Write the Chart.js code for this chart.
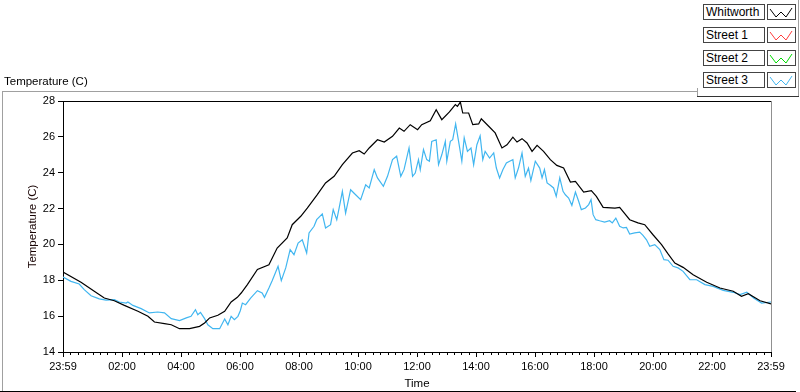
<!DOCTYPE html>
<html>
<head>
<meta charset="utf-8">
<script src="https://cdn.jsdelivr.net/npm/chart.js@4.4.0/dist/chart.umd.min.js"></script>
<style>
  html, body { margin: 0; padding: 0; background: #fff; }
  body { width: 800px; height: 392px; position: relative; overflow: hidden; font-family: "Liberation Sans", Arial, sans-serif; }
  #chart { position: absolute; left: 0; top: 0; }
  .line { position: absolute; }
  .plot-title { position: absolute; left: 4px; top: 75px; font-size: 11.5px; color: #000; }
  .legend-row { position: absolute; left: 703px; height: 15px; }
  .legend-name { position: absolute; left: 0; top: 0; width: 58px; height: 14px; border: 1px solid #444; font-size: 12px; line-height: 14px; padding-left: 2px; box-sizing: content-box; background: #fff; }
  .legend-swatch { position: absolute; left: 64px; top: 0; width: 27px; height: 14px; border: 1px solid #444; background: #fff; }
</style>
</head>
<body>
<canvas id="chart" width="800" height="392"></canvas>
<div class="line" style="left:2px;top:91px;width:695px;height:1px;background:#a0a0a0"></div>
<div class="line" style="left:2px;top:91px;width:1px;height:300px;background:#a0a0a0"></div>
<div class="line" style="left:0;top:391px;width:796px;height:1px;background:#000"></div>
<div class="line" style="left:798px;top:0;width:1px;height:97px;background:#a0a0a0"></div>
<div class="line" style="left:697px;top:88px;width:1px;height:9px;background:#a0a0a0"></div>
<div class="line" style="left:697px;top:96px;width:102px;height:1px;background:#333"></div>
<div class="plot-title">Temperature (C)</div>
<div id="legend"></div>
<script>
  // Time axis in hours since 23:59 (0 .. 24)
  const X_TICK_VALUES = [0, 2, 4, 6, 8, 10, 12, 14, 16, 18, 20, 22, 24];
  const X_TICK_LABELS = ["23:59", "02:00", "04:00", "06:00", "08:00", "10:00", "12:00",
    "14:00", "16:00", "18:00", "20:00", "22:00", "23:59"];
  const Y_TICK_VALUES = [14, 16, 18, 20, 22, 24, 26, 28];

  const SERIES_NAMES = ["Whitworth", "Street 1", "Street 2", "Street 3"];
  const SERIES_COLORS = ["#000000", "#ff3c3c", "#00dc00", "#41b6f0"];

  const whitworthHours = [0.00, 0.61, 1.06, 1.40, 1.74, 2.08, 2.54, 2.88, 3.10, 3.44, 3.67, 3.95, 4.29,
    4.63, 4.80, 4.97, 5.25, 5.48, 5.70, 5.91, 6.04, 6.25, 6.59, 6.98, 7.26, 7.60, 7.77, 8.06, 8.28,
    8.62, 8.90, 9.19, 9.47, 9.81, 10.04, 10.21, 10.38, 10.66, 10.89, 11.17, 11.40, 11.56, 11.77,
    12.02, 12.16, 12.45, 12.65, 12.84, 13.10, 13.30, 13.37, 13.47, 13.55, 13.75, 13.89, 14.09,
    14.18, 14.43, 14.65, 14.88, 15.05, 15.25, 15.39, 15.56, 15.73, 15.90, 16.07, 16.29, 16.52,
    16.74, 16.97, 17.20, 17.37, 17.65, 17.91, 18.08, 18.31, 18.71, 18.87, 19.21, 19.49, 19.72,
    20.00, 20.29, 20.51, 20.74, 21.02, 21.36, 21.82, 22.27, 22.72, 23.00, 23.23, 23.63, 24.00];
  const whitworthTemps = [18.46, 17.89, 17.39, 17.01, 16.86, 16.60, 16.27, 15.99, 15.67, 15.58, 15.52,
    15.30, 15.30, 15.43, 15.62, 15.90, 16.05, 16.27, 16.79, 17.05, 17.29, 17.76, 18.60, 18.87,
    19.80, 20.36, 21.10, 21.57, 22.03, 22.78, 23.43, 23.80, 24.45, 25.10, 25.23, 25.04, 25.38,
    25.84, 25.71, 26.03, 26.49, 26.31, 26.68, 26.40, 26.68, 26.90, 27.51, 26.96, 27.39, 27.80,
    27.70, 27.94, 27.33, 27.33, 26.68, 26.72, 27.01, 26.59, 26.22, 25.38, 25.56, 25.98, 25.71,
    25.90, 25.66, 25.19, 25.53, 25.19, 24.73, 24.41, 24.26, 23.48, 23.52, 22.92, 23.00, 22.68,
    22.07, 22.03, 22.07, 21.38, 21.20, 21.10, 20.54, 19.99, 19.47, 18.96, 18.72, 18.31, 17.89,
    17.57, 17.39, 17.11, 17.25, 16.86, 16.68];

  const street1Hours = [];
  const street1Temps = [];
  const street2Hours = [];
  const street2Temps = [];

  const street3Hours = [0.00, 0.27, 0.55, 0.72, 0.95, 1.23, 1.46, 1.74, 1.91, 2.14, 2.20, 2.37, 2.65,
    2.93, 3.21, 3.44, 3.67, 3.95, 4.18, 4.34, 4.49, 4.57, 4.66, 4.80, 4.91, 5.08, 5.31, 5.48, 5.59,
    5.70, 5.81, 5.93, 6.01, 6.08, 6.19, 6.36, 6.59, 6.75, 6.83, 6.98, 7.09, 7.29, 7.40, 7.55, 7.70,
    7.83, 7.97, 8.11, 8.26, 8.34, 8.51, 8.60, 8.79, 8.90, 9.07, 9.16, 9.28, 9.36, 9.47, 9.58, 9.75,
    9.92, 10.09, 10.26, 10.38, 10.55, 10.66, 10.86, 11.00, 11.17, 11.31, 11.45, 11.56, 11.73,
    11.85, 11.94, 12.05, 12.11, 12.22, 12.33, 12.42, 12.50, 12.65, 12.73, 12.84, 12.96, 13.01,
    13.13, 13.21, 13.31, 13.41, 13.52, 13.60, 13.71, 13.83, 13.92, 14.03, 14.14, 14.23, 14.31,
    14.46, 14.60, 14.69, 14.80, 14.91, 15.03, 15.14, 15.25, 15.33, 15.44, 15.56, 15.67, 15.78,
    15.86, 16.01, 16.16, 16.24, 16.32, 16.41, 16.52, 16.63, 16.72, 16.84, 16.95, 17.03, 17.14,
    17.25, 17.37, 17.48, 17.57, 17.71, 17.82, 17.90, 17.97, 18.06, 18.19, 18.36, 18.53, 18.62,
    18.74, 18.87, 18.99, 19.10, 19.21, 19.38, 19.55, 19.66, 19.78, 19.89, 20.06, 20.23, 20.37,
    20.51, 20.68, 20.85, 21.02, 21.25, 21.48, 21.76, 22.04, 22.38, 22.72, 22.95, 23.18, 23.41,
    23.68, 24.00];
  const street3Temps = [18.18, 17.94, 17.79, 17.48, 17.14, 16.96, 16.89, 16.92, 16.79, 16.73, 16.79,
    16.60, 16.42, 16.18, 16.23, 16.18, 15.86, 15.75, 15.90, 15.99, 16.36, 16.08, 16.21, 15.86,
    15.52, 15.30, 15.30, 15.84, 15.52, 15.99, 15.80, 15.99, 16.30, 16.73, 16.64, 17.01, 17.42,
    17.29, 17.05, 17.57, 17.98, 18.78, 17.98, 18.69, 19.71, 19.43, 20.08, 20.26, 19.52, 20.64,
    21.01, 21.38, 21.70, 20.92, 21.10, 21.94, 21.38, 22.03, 22.96, 21.75, 23.05, 22.77, 22.50,
    23.33, 23.15, 24.17, 23.71, 23.24, 23.80, 24.73, 24.92, 23.80, 24.17, 25.38, 23.80, 23.98,
    24.73, 24.17, 25.29, 24.73, 24.64, 25.75, 25.84, 24.45, 25.00, 25.75, 24.64, 25.75, 25.84,
    26.72, 25.75, 24.64, 25.94, 25.19, 25.38, 24.45, 25.56, 26.06, 24.73, 25.19, 24.82, 25.10,
    24.26, 23.71, 24.17, 24.54, 24.64, 24.73, 23.71, 24.26, 25.10, 23.80, 24.26, 23.56, 24.64,
    24.26, 23.71, 24.17, 23.43, 23.30, 23.15, 22.68, 23.71, 22.96, 22.77, 22.59, 22.18, 22.92,
    22.41, 21.94, 22.03, 22.22, 22.50, 21.66, 21.38, 21.32, 21.25, 21.32, 21.20, 21.47, 21.01,
    20.92, 20.95, 20.58, 20.64, 20.69, 20.51, 20.26, 19.90, 19.99, 19.71, 19.15, 19.12, 18.78,
    18.69, 18.50, 18.03, 18.03, 17.76, 17.66, 17.44, 17.33, 17.20, 17.33, 17.01, 16.73, 16.79];

  const FONT = { family: "'Liberation Sans', Arial, sans-serif", size: 11 };
  const TITLE_FONT = { family: "'Liberation Sans', Arial, sans-serif", size: 11.5 };

  function toPoints(hours, temps) {
    return hours.map((h, i) => ({ x: h, y: temps[i] }));
  }

  // Legend: name box plus a small zigzag swatch, like the original control.
  const legend = document.getElementById("legend");
  SERIES_NAMES.forEach((name, i) => {
    const row = document.createElement("div");
    row.className = "legend-row";
    row.style.top = (4 + i * 22.8) + "px";
    row.innerHTML = `<div class="legend-name">${name}</div>
      <div class="legend-swatch"><svg width="27" height="14"><polyline points="2,4 8,12 13,7 18,12 24,3"
        fill="none" stroke="${SERIES_COLORS[i]}" stroke-width="1"/></svg></div>`;
    legend.appendChild(row);
  });

  // Plot frame (top black, right grey) and 15-minute minor ticks on the time axis.
  const framePlugin = {
    id: "frame",
    afterDraw(chart) {
      const { ctx, chartArea: a, scales } = chart;
      ctx.save();
      ctx.lineWidth = 1;
      ctx.strokeStyle = "#000";
      ctx.beginPath();
      ctx.moveTo(a.left, a.top + 0.5);
      ctx.lineTo(a.right, a.top + 0.5);
      ctx.stroke();
      ctx.strokeStyle = "#909090";
      ctx.beginPath();
      ctx.moveTo(a.right + 0.5, a.top);
      ctx.lineTo(a.right + 0.5, a.bottom);
      ctx.stroke();
      ctx.strokeStyle = "#000";
      ctx.beginPath();
      for (let q = 1; q < 96; q++) {
        if (q % 8 === 0) continue;
        const px = Math.round(scales.x.getPixelForValue(q / 4)) + 0.5;
        ctx.moveTo(px, a.bottom);
        ctx.lineTo(px, a.bottom + 3);
      }
      ctx.stroke();
      ctx.restore();
    },
  };

  const lineStyle = (i) => ({
    label: SERIES_NAMES[i],
    borderColor: SERIES_COLORS[i],
    backgroundColor: SERIES_COLORS[i],
    borderWidth: 1.2,
    pointRadius: 0,
    tension: 0,
    fill: false,
  });

  new Chart(document.getElementById("chart"), {
    type: "line",
    data: {
      datasets: [
        { ...lineStyle(0), data: toPoints(whitworthHours, whitworthTemps) },
        { ...lineStyle(1), data: toPoints(street1Hours, street1Temps) },
        { ...lineStyle(2), data: toPoints(street2Hours, street2Temps) },
        { ...lineStyle(3), data: toPoints(street3Hours, street3Temps) },
      ],
    },
    options: {
      responsive: false,
      animation: false,
      devicePixelRatio: 1,
      layout: { padding: { left: 0, top: 101, right: 29, bottom: 0 } },
      plugins: { legend: { display: false }, tooltip: { enabled: false } },
      scales: {
        x: {
          type: "linear",
          min: 0,
          max: 24,
          afterBuildTicks: (s) => { s.ticks = X_TICK_VALUES.map((v) => ({ value: v })); },
          afterFit: (s) => { s.height = 40; },
          ticks: {
            autoSkip: false,
            maxRotation: 0,
            padding: 3,
            color: "#000",
            font: FONT,
            callback: (v, i) => X_TICK_LABELS[i],
          },
          grid: { drawOnChartArea: false, drawTicks: true, tickLength: 5, color: "#000" },
          border: { display: true, color: "#000" },
          title: { display: true, text: "Time", color: "#000", font: TITLE_FONT, padding: { top: 0, bottom: 1 } },
        },
        y: {
          min: 14,
          max: 28,
          afterBuildTicks: (s) => { s.ticks = Y_TICK_VALUES.map((v) => ({ value: v })); },
          afterFit: (s) => { s.width = 63; },
          ticks: { padding: 3, color: "#000", font: FONT },
          grid: { drawOnChartArea: false, drawTicks: true, tickLength: 5, color: "#000" },
          border: { display: true, color: "#000" },
          title: { display: true, text: "Temperature (C)", color: "#1a0505", font: TITLE_FONT, padding: { top: 26, bottom: 0 } },
        },
      },
    },
    plugins: [framePlugin],
  });
</script>
</body>
</html>
